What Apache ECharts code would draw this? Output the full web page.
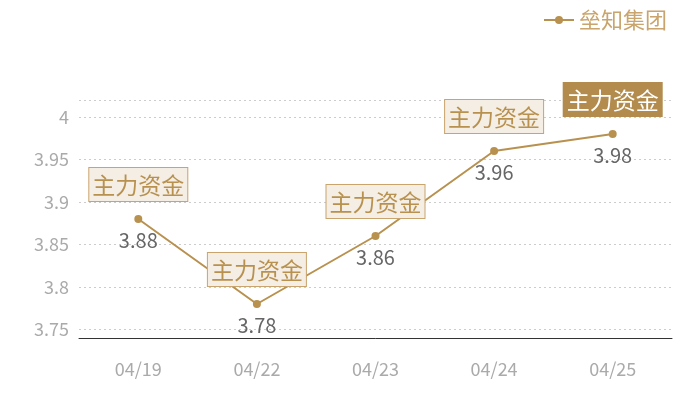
<!DOCTYPE html>
<html>
<head>
<meta charset="utf-8">
<style>
  html, body { margin: 0; padding: 0; background: #fff; }
  #chart { width: 700px; height: 400px; }
</style>
<script src="https://cdn.jsdelivr.net/npm/echarts@6/dist/echarts.min.js"></script>
</head>
<body>
<div id="chart"></div>
<script>
  const dates = ["04/19", "04/22", "04/23", "04/24", "04/25"];
  const prices = [3.88, 3.78, 3.86, 3.96, 3.98];
  const tagText = "主力资金";
  const seriesName = "垒知集团";

  const gold = "#b8914f";
  const font = "'Noto Sans CJK SC', 'Noto Sans', sans-serif";

  const tags = dates.map(function (d, i) {
    const last = i === dates.length - 1;
    return {
      coord: [d, prices[i]],
      label: {
        color: last ? "#fff" : gold,
        backgroundColor: last ? "#b38c4d" : "#f4eee5",
        borderColor: last ? "#b38c4d" : "#c9a46c",
        borderWidth: 1
      }
    };
  });

  const chart = echarts.init(document.getElementById("chart"));
  chart.setOption({
    textStyle: { fontFamily: font },
    legend: {
      right: 28,
      top: 4,
      itemWidth: 30,
      itemHeight: 10,
      itemGap: 6,
      textStyle: { color: "#c9a46c", fontSize: 22, fontFamily: font },
      data: [seriesName]
    },
    grid: { left: 79, right: 28, top: 100, bottom: 62 },
    xAxis: {
      type: "category",
      data: dates,
      axisLine: { lineStyle: { color: "#333", width: 1 } },
      axisTick: { show: false },
      axisLabel: { color: "#aaa", fontSize: 18, margin: 22, fontFamily: font }
    },
    yAxis: {
      type: "value",
      min: 3.74,
      max: 4.02,
      axisLine: { show: false },
      axisTick: { show: false },
      axisLabel: { color: "#aaa", fontSize: 18, margin: 10, showMinLabel: false, showMaxLabel: false, fontFamily: font },
      splitLine: { lineStyle: { color: "#ccc", type: [2, 3] } }
    },
    series: [{
      name: seriesName,
      type: "line",
      data: prices,
      symbol: "circle",
      symbolSize: 8,
      itemStyle: { color: gold },
      lineStyle: { color: gold, width: 2 },
      label: {
        show: true,
        position: "bottom",
        distance: 7,
        color: "#666",
        fontSize: 20,
        fontFamily: font
      },
      markPoint: {
        symbol: "circle",
        symbolSize: 0,
        label: {
          show: true,
          position: "top",
          distance: 18,
          formatter: tagText,
          fontSize: 23,
          fontFamily: font,
          padding: [6, 3, 4, 3]
        },
        data: tags
      }
    }]
  });
</script>
</body>
</html>
